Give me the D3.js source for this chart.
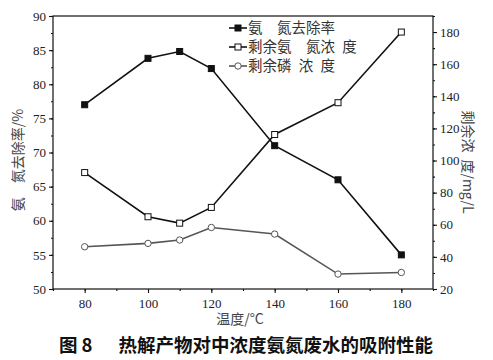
<!DOCTYPE html>
<html><head><meta charset="utf-8">
<script src="https://cdn.jsdelivr.net/npm/d3@7"></script>
<style>
body{margin:0;background:#fff;}
svg{display:block;}
</style></head>
<body>
<svg id="chart" width="493" height="360"></svg>
<script>
const temperatures = [80, 100, 110, 120, 140, 160, 180];
const removalRate = [77.0, 83.8, 84.8, 82.3, 71.0, 66.0, 55.0];
const residualAmmonia = [92.5, 65.0, 61.0, 70.8, 116.2, 136.0, 180.0];
const residualPhosphorus = [46.3, 48.4, 50.5, 58.3, 54.2, 29.3, 30.3];
const xTicks = [80, 100, 120, 140, 160, 180];
const leftTicks = [50, 55, 60, 65, 70, 75, 80, 85, 90];
const rightTicks = [20, 40, 60, 80, 100, 120, 140, 160, 180];
const legendLabels = ["氨　氮去除率", "剩余氨　氮浓\u2002度", "剩余磷\u2002浓\u2002度"];

const svg = d3.select("#chart");
const m = {l: 53, r: 433, t: 16, b: 289};
const serif = "'Liberation Serif','Times New Roman',serif";
const cjk = "'Noto Sans CJK SC','Noto Sans',sans-serif";

const x = d3.scaleLinear().domain([70, 190]).range([m.l, m.r]);
const yL = d3.scaleLinear().domain([50, 90]).range([m.b, m.t]);
const yR = d3.scaleLinear().domain([20, 190]).range([m.b, m.t]);

// frame
svg.append("rect").attr("x", m.l).attr("y", m.t).attr("width", m.r - m.l).attr("height", m.b - m.t)
  .attr("fill", "none").attr("stroke", "#111").attr("stroke-width", 1.2);

// bottom axis
const gx = svg.append("g").attr("transform", `translate(0,${m.b})`);
gx.call(d3.axisBottom(x).tickValues(d3.range(70, 191, 10)).tickSize(2).tickFormat(""));
gx.append("g").call(d3.axisBottom(x).tickValues(xTicks).tickSize(4).tickPadding(6).tickFormat(d3.format("d")));
gx.selectAll(".domain").remove();
gx.selectAll("line").attr("stroke", "#111").attr("stroke-width", 1.1);
gx.selectAll("text").attr("font-family", serif).attr("font-size", 13).attr("fill", "#222");

// left axis
const gl = svg.append("g").attr("transform", `translate(${m.l},0)`);
gl.call(d3.axisLeft(yL).tickValues(d3.range(50, 90.1, 2.5)).tickSize(2).tickFormat(""));
gl.append("g").call(d3.axisLeft(yL).tickValues(leftTicks).tickSize(4).tickPadding(3).tickFormat(d3.format("d")));
gl.selectAll(".domain").remove();
gl.selectAll("line").attr("stroke", "#111").attr("stroke-width", 1.1);
gl.selectAll("text").attr("font-family", serif).attr("font-size", 13).attr("fill", "#222");

// right axis
const gr = svg.append("g").attr("transform", `translate(${m.r},0)`);
gr.call(d3.axisRight(yR).tickValues(d3.range(20, 190.1, 10)).tickSize(2).tickFormat(""));
gr.append("g").call(d3.axisRight(yR).tickValues(rightTicks).tickSize(4).tickPadding(3).tickFormat(d3.format("d")));
gr.selectAll(".domain").remove();
gr.selectAll("line").attr("stroke", "#111").attr("stroke-width", 1.1);
gr.selectAll("text").attr("font-family", serif).attr("font-size", 13).attr("fill", "#222");

// series
const series = [
  {vals: removalRate, y: yL, color: "#111", marker: "fsq"},
  {vals: residualAmmonia, y: yR, color: "#111", marker: "osq"},
  {vals: residualPhosphorus, y: yR, color: "#555", marker: "oci"}
];
series.forEach(s => {
  const pts = temperatures.map((t, i) => [x(t), s.y(s.vals[i])]);
  svg.append("path").attr("d", d3.line()(pts)).attr("fill", "none")
    .attr("stroke", s.color).attr("stroke-width", 1.6);
  pts.forEach(p => drawMarker(svg, s.marker, p[0], p[1], s.color));
});

function drawMarker(g, type, cx, cy, color) {
  if (type === "oci") {
    g.append("circle").attr("cx", cx).attr("cy", cy).attr("r", 3.2)
      .attr("fill", "#fff").attr("stroke", color).attr("stroke-width", 1);
  } else {
    g.append("rect").attr("x", cx - 3).attr("y", cy - 3).attr("width", 6).attr("height", 6)
      .attr("fill", type === "fsq" ? "#111" : "#fff").attr("stroke", "#111").attr("stroke-width", 1);
  }
}

// legend
const legY = [28, 47, 66];
series.forEach((s, i) => {
  const ly = legY[i];
  svg.append("line").attr("x1", 229).attr("x2", 247).attr("y1", ly).attr("y2", ly)
    .attr("stroke", s.color).attr("stroke-width", 1.6);
  drawMarker(svg, s.marker, 238, ly, s.color);
  svg.append("text").attr("x", 248).attr("y", ly + 5).text(legendLabels[i])
    .attr("font-family", cjk).attr("font-size", 14.5).attr("fill", "#333");
});

// axis titles
svg.append("text").attr("transform", "translate(23,160) rotate(-90)").attr("text-anchor", "middle")
  .attr("font-family", cjk).attr("font-size", 14).attr("fill", "#444").text("氨　氮去除率/%");
svg.append("text").attr("transform", "translate(463,162) rotate(90)").attr("text-anchor", "middle")
  .attr("font-family", cjk).attr("font-size", 14).attr("fill", "#444").text("剩余浓\u2002度/mg/L");
svg.append("text").attr("x", 240).attr("y", 324).attr("text-anchor", "middle")
  .attr("font-family", cjk).attr("font-size", 14).attr("fill", "#444").text("温度/°C");

// caption
const cap = svg.append("text").attr("x", 246).attr("y", 352).attr("text-anchor", "middle")
  .attr("font-family", cjk).attr("font-size", 18.5).attr("font-weight", "bold").attr("fill", "#111");
cap.append("tspan").text("图 8");
cap.append("tspan").attr("dx", 26).text("热解产物对中浓度氨氮废水的吸附性能");
</script>
</body></html>
